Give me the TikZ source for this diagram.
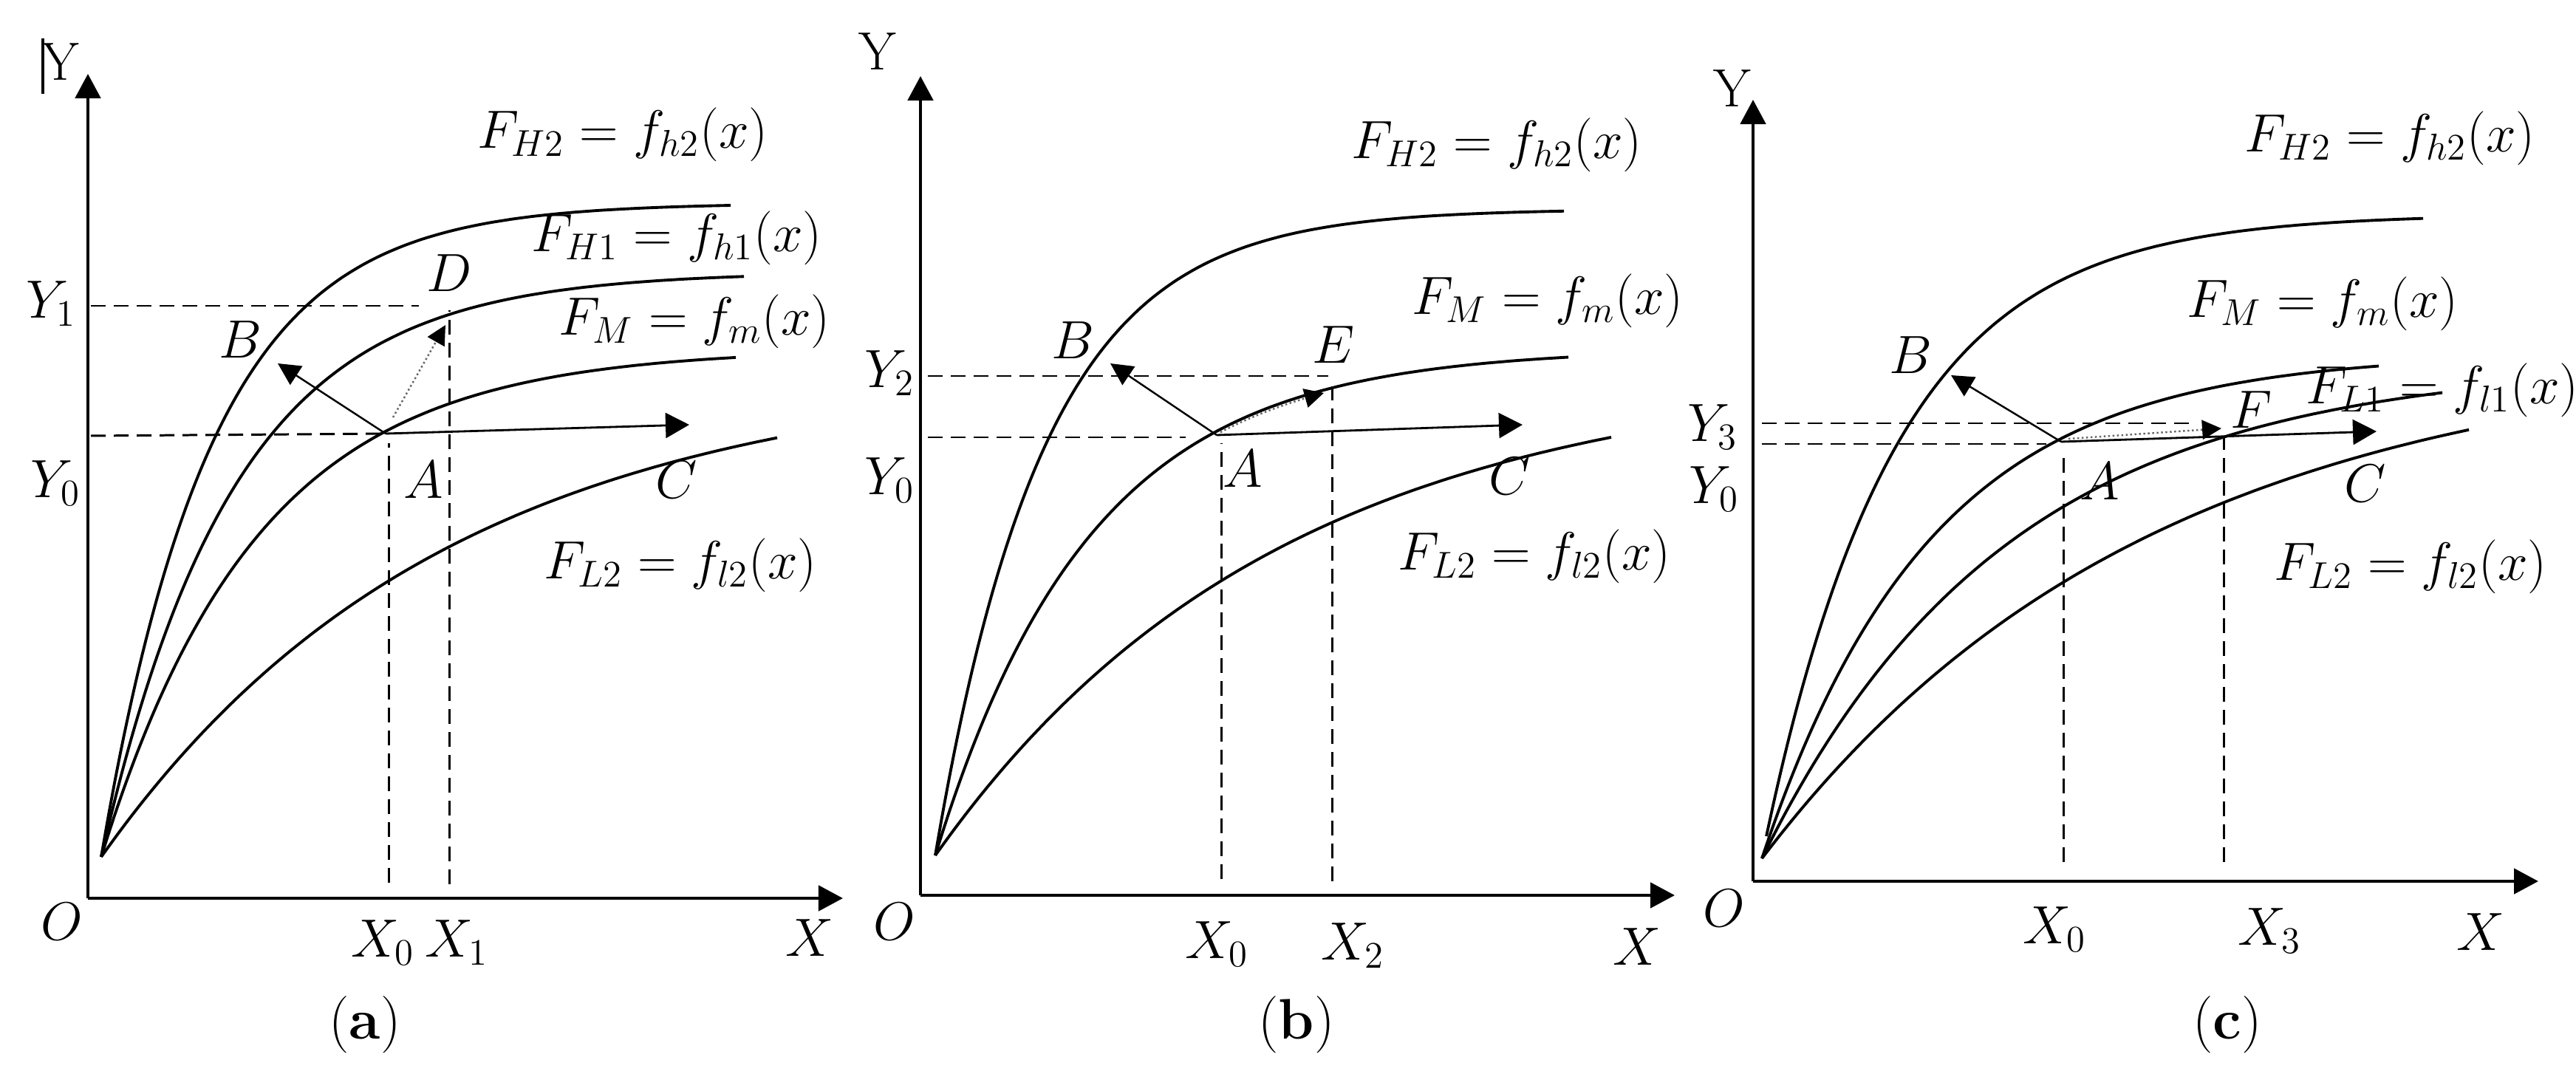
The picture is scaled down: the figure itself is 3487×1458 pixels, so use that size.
\documentclass[tikz,border=0pt]{standalone}
\usetikzlibrary{arrows.meta}
\begin{document}
\begin{tikzpicture}[x=0.01cm,y=-0.01cm,
  lab/.style={inner sep=0pt, font=\fontsize{20}{23}\selectfont},
  captxt/.style={inner sep=0pt, font=\fontsize{22}{25}\selectfont},
  axis/.style={line width=1.4pt, -{Triangle[length=3.3mm,width=3.4mm]}},
  curve/.style={line width=1.1pt},
  guide/.style={line width=0.85pt, dash pattern=on 2mm off 1.1mm},
  move/.style={line width=0.7pt, -{Triangle[length=3mm,width=3mm]}},
  hmove/.style={line width=0.8pt, -{Triangle[length=3.2mm,width=3.4mm]}},
  dmove/.style={line width=0.7pt, black!60, densely dotted, -{Triangle[length=2.6mm,width=2.6mm,color=black]}}]
\useasboundingbox (0,0) rectangle (3487,1458);

% ================= panel (a) =================
\coordinate (aO) at (119,1216);
\coordinate (aYtip) at (119,100);
\coordinate (aXtip) at (1141,1216);
\draw[axis] (aO) -- (aYtip);
\draw[axis] (aO) -- (aXtip);
\draw[line width=0.9pt] (58,52) -- (58,127);
\node[lab] (aY) at (83,84) {$\mathrm{Y}$};
\draw[curve] plot[domain=137:989,samples=90,smooth] (\x,{1160-885*(1-exp(-(\x-137)/150))});
\draw[curve] plot[domain=137:1007,samples=90,smooth] (\x,{1160-792*(1-exp(-(\x-137)/180))});
\draw[curve] plot[domain=137:996,samples=90,smooth] (\x,{1160-688*(1-exp(-(\x-137)/212))});
\draw[curve] plot[domain=137:1052,samples=90,smooth] (\x,{1160-660*(1-exp(-(\x-137)/466))});
\coordinate (aA) at (522,587);
\coordinate (aB) at (376,492);
\coordinate (aC) at (933,575);
\coordinate (aDs) at (532,565);
\coordinate (aD) at (603,440);
\draw[guide] (123,414) -- (567,414);
\draw[guide] (123,590) -- (aA);
\draw[guide] (526,1195) -- (526,600);
\draw[guide] (608,1197) -- (608,420);
\draw[move] (aA) -- (aB);
\draw[hmove] (aA) -- (aC);
\draw[dmove] (aDs) -- (aD);
\node[lab] (aFH2) at (843,182) {$F_{H2}=f_{h2}(x)$};
\node[lab] (aFH1) at (916,322) {$F_{H1}=f_{h1}(x)$};
\node[lab] (aFM) at (940,435) {$F_{M}=f_{m}(x)$};
\node[lab] (aFL2) at (921,765) {$F_{L2}=f_{l2}(x)$};
\node[lab] (aDl) at (608,370) {$D$};
\node[lab] (aBl) at (325,460) {$B$};
\node[lab] (aAl) at (573,650) {$A$};
\node[lab] (aCl) at (916,650) {$C$};
\node[lab] (aY1) at (69,411) {$Y_1$};
\node[lab] (aY0) at (75,654) {$Y_0$};
\node[lab] (aOl) at (84,1248) {$O$};
\node[lab] (aX0) at (518,1276) {$X_0$};
\node[lab] (aX1) at (618,1276) {$X_1$};
\node[lab] (aX) at (1096,1270) {$X$};
\node[captxt] (acap) at (494,1387) {(\textbf{a})};

% ================= panel (b) =================
\coordinate (bO) at (1246,1212);
\coordinate (bYtip) at (1246,103);
\coordinate (bXtip) at (2267,1212);
\draw[axis] (bO) -- (bYtip);
\draw[axis] (bO) -- (bXtip);
\node[lab] (bY) at (1189,70) {$\mathrm{Y}$};
\draw[curve] plot[domain=1266:2117,samples=90,smooth] (\x,{1158-875*(1-exp(-(\x-1266)/148))});
\draw[curve] plot[domain=1266:2123,samples=90,smooth] (\x,{1158-686*(1-exp(-(\x-1266)/210))});
\draw[curve] plot[domain=1266:2181,samples=90,smooth] (\x,{1158-658*(1-exp(-(\x-1266)/465))});
\coordinate (bA) at (1647,589);
\coordinate (bB) at (1503,492);
\coordinate (bC) at (2061,575);
\coordinate (bE) at (1792,527);
\draw[guide] (1256,509) -- (1798,509);
\draw[guide] (1256,592) -- (1605,592);
\draw[guide] (1653,1190) -- (1653,600);
\draw[guide] (1803,1193) -- (1803,523);
\draw[move] (bA) -- (bB);
\draw[hmove] (bA) -- (bC);
\draw[dmove] plot[domain=1652:1792,samples=20,smooth] (\x,{1162-686*(1-exp(-(\x-1266)/210))});
\node[lab] (bFH2) at (2026,196) {$F_{H2}=f_{h2}(x)$};
\node[lab] (bFM) at (2095,407) {$F_{M}=f_{m}(x)$};
\node[lab] (bFL2) at (2077,753) {$F_{L2}=f_{l2}(x)$};
\node[lab] (bEl) at (1805,467) {$E$};
\node[lab] (bBl) at (1452,461) {$B$};
\node[lab] (bAl) at (1682,635) {$A$};
\node[lab] (bCl) at (2044,645) {$C$};
\node[lab] (bY2) at (1204,505) {$Y_2$};
\node[lab] (bY0) at (1204,650) {$Y_0$};
\node[lab] (bOl) at (1211,1248) {$O$};
\node[lab] (bX0) at (1647,1278) {$X_0$};
\node[lab] (bX2) at (1831,1280) {$X_2$};
\node[lab] (bX) at (2216,1282) {$X$};
\node[captxt] (bcap) at (1755,1387) {(\textbf{b})};

% ================= panel (c) =================
\coordinate (cO) at (2373,1193);
\coordinate (cYtip) at (2373,135);
\coordinate (cXtip) at (3436,1193);
\draw[axis] (cO) -- (cYtip);
\draw[axis] (cO) -- (cXtip);
\node[lab] (cY) at (2346,120) {$\mathrm{Y}$};
\draw[curve] plot[domain=2391:3280,samples=90,smooth] (\x,{1132-842*(1-exp(-(\x-2391)/178))});
\draw[curve] plot[domain=2385:3220,samples=90,smooth] (\x,{1162-684*(1-exp(-(\x-2385)/228))});
\draw[curve] plot[domain=2385:3306,samples=90,smooth] (\x,{1162-672*(1-exp(-(\x-2385)/331))});
\draw[curve] plot[domain=2385:3342,samples=90,smooth] (\x,{1162-692*(1-exp(-(\x-2385)/525))});
\coordinate (cA) at (2790,598);
\coordinate (cB) at (2641,508);
\coordinate (cC) at (3217,584);
\coordinate (cF) at (3007,580);
\draw[guide] (2385,573) -- (2963,573);
\draw[guide] (2385,601) -- (2770,601);
\draw[guide] (2793,1167) -- (2793,610);
\draw[guide] (3010,1167) -- (3010,593);
\draw[move] (cA) -- (cB);
\draw[hmove] (cA) -- (cC);
\draw[dmove] (2800,594) -- (cF);
\node[lab] (cFH2) at (3235,187) {$F_{H2}=f_{h2}(x)$};
\node[lab] (cFM) at (3144,411) {$F_{M}=f_{m}(x)$};
\node[lab] (cFL1) at (3306,528) {$F_{L1}=f_{l1}(x)$};
\node[lab] (cFL2) at (3263,767) {$F_{L2}=f_{l2}(x)$};
\node[lab] (cBl) at (2586,481) {$B$};
\node[lab] (cFl) at (3048,555) {$F$};
\node[lab] (cAl) at (2842,652) {$A$};
\node[lab] (cCl) at (3202,655) {$C$};
\node[lab] (cY3) at (2318,578) {$Y_3$};
\node[lab] (cY0) at (2320,662) {$Y_0$};
\node[lab] (cOl) at (2334,1230) {$O$};
\node[lab] (cX0) at (2781,1258) {$X_0$};
\node[lab] (cX3) at (3072,1260) {$X_3$};
\node[lab] (cX) at (3358,1262) {$X$};
\node[captxt] (ccap) at (3015,1387) {(\textbf{c})};
\end{tikzpicture}
\end{document}
